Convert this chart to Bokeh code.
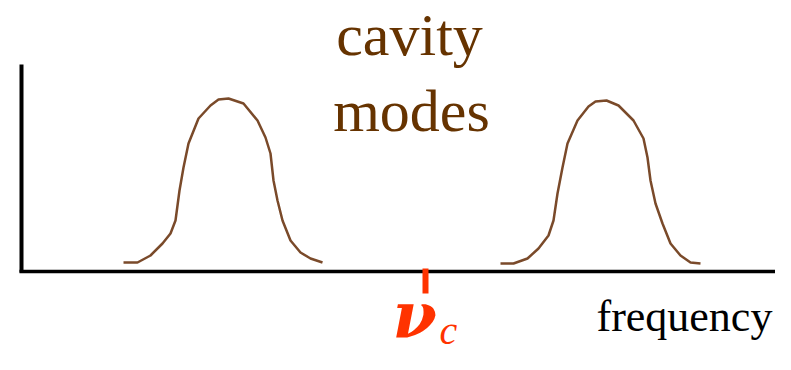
from bokeh.plotting import figure
from bokeh.models import Range1d
from bokeh.core.properties import value
from bokeh.embed import file_html
from bokeh.resources import INLINE

# ---- data (frequency in arbitrary units, intensity in arbitrary units) ----
mode1_freq = [123, 137, 150, 162, 170, 175, 179, 183, 188, 198, 210, 218,
              228, 243, 257, 265, 270, 273, 277, 282, 290, 300, 310, 322]
mode1_int = [9, 9, 16, 28, 38, 51, 81, 104, 128, 153, 166, 172,
             173, 168, 151, 134, 118, 91, 71, 51, 31, 19, 13, 9]
mode2_freq = [500, 513, 527, 538, 548, 553, 557, 562, 567, 577, 588, 595,
              606, 618, 633, 643, 647, 650, 655, 662, 670, 680, 690, 700]
mode2_int = [8, 8, 13, 23, 36, 51, 78, 104, 128, 151, 165, 170,
             171, 166, 151, 133, 114, 91, 68, 48, 28, 16, 9, 8]
nu_c = 425
freq_axis = [19, 800]
int_axis_top = 207

title_lines = ["cavity", "modes"]
x_label = "frequency"
marker_symbol = "ν"
marker_sub = "c"

BROWN_TEXT = "#663300"
BROWN_LINE = "#7A4A2A"
RED = "#FF3300"

W, H = 775, 354
BASE = 271  # pixel row of the frequency axis


def row(baseline_px, size_px):
    # convert a wanted baseline row into the anchor Bokeh uses
    return BASE - (baseline_px - 0.33 * size_px)


p = figure(width=W, height=H, output_backend="svg", toolbar_location=None,
           x_range=Range1d(0, W), y_range=Range1d(BASE - H, BASE),
           min_border=0, min_border_left=0, min_border_right=0,
           min_border_top=0, min_border_bottom=0)
p.axis.visible = False
p.grid.visible = False
p.outline_line_color = None
p.background_fill_color = "white"

# axes drawn as lines
p.segment(x0=[freq_axis[0]], y0=[0], x1=[freq_axis[1]], y1=[0],
          line_color="black", line_width=3.5)
p.segment(x0=[freq_axis[0] + 2], y0=[-1], x1=[freq_axis[0] + 2], y1=[int_axis_top],
          line_color="black", line_width=4)

# cavity modes
p.line(mode1_freq, mode1_int, line_color=BROWN_LINE, line_width=2.5)
p.line(mode2_freq, mode2_int, line_color=BROWN_LINE, line_width=2.5)

# nu_c tick
p.segment(x0=[nu_c], y0=[3], x1=[nu_c], y1=[-22], line_color=RED, line_width=6)

# texts
p.text(x=[409, 411], y=[row(54, 60), row(130, 60)], text=title_lines,
       text_font=value("Liberation Serif"), text_font_size="60px",
       text_color=BROWN_TEXT, text_align="center", text_baseline="alphabetic")
p.text(x=[596], y=[row(331, 44)], text=[x_label],
       text_font=value("Liberation Serif"), text_font_size="44px",
       text_color="black", text_align="left", text_baseline="alphabetic")
p.text(x=[nu_c - 33], y=[row(335, 64)], text=[marker_symbol],
       text_font=value("DejaVu Serif"), text_font_size="64px",
       text_font_style="bold italic",
       text_color=RED, text_align="left", text_baseline="alphabetic")
p.text(x=[nu_c + 14], y=[row(343, 40)], text=[marker_sub],
       text_font=value("Liberation Serif"), text_font_size="40px",
       text_font_style="italic",
       text_color=RED, text_align="left", text_baseline="alphabetic")

open("out.html", "w").write(file_html(p, INLINE))
